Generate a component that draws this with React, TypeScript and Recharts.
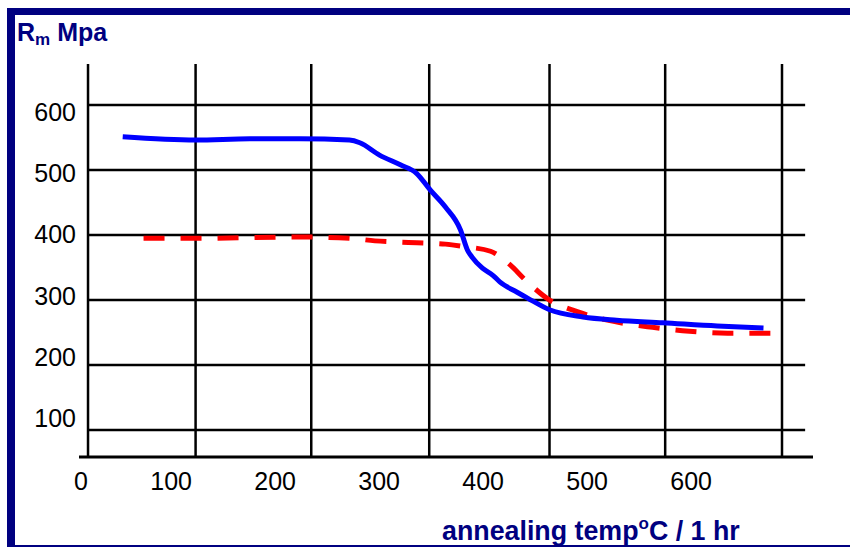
import React from "react";
import { LineChart, Line, XAxis, YAxis, ReferenceLine } from "recharts";

const NAVY = "#000080";
const FONT = "'Liberation Sans', Arial, sans-serif";

// tick labels
const tempTicks = [0, 100, 200, 300, 400, 500, 600];
const rmTicks = [100, 200, 300, 400, 500, 600];

// where the drawn grid lines fall (temperature / Rm)
const tempGrid = [0, 93, 193, 295, 399, 499, 600];
const rmGrid = [100, 200, 300, 400, 500, 600];

// solid blue curve
const blueTemps = [30, 93, 140, 183, 226, 235, 252, 270, 284, 296, 309, 322, 328, 332, 341, 350, 356, 371, 380, 399, 428, 457, 497, 544, 584];
const blueRm = [551, 546, 548, 548, 546, 542, 523, 508, 495, 469, 443, 408, 377, 366, 349, 338, 328, 312, 303, 285, 274, 269, 265, 260, 257];

// dashed red curve
const redTemps = [48, 97, 183, 226, 248, 270, 309, 326, 348, 365, 378, 399, 423, 449, 488, 520, 553, 594];
const redRm = [395, 395, 397, 395, 391, 389, 386, 382, 375, 354, 331, 300, 282, 269, 258, 252, 249, 249];

const blueData = blueTemps.map((t, i) => ({ temp: t, rm: blueRm[i] }));
const redData = redTemps.map((t, i) => ({ temp: t, rm: redRm[i] }));

const XTick = (props: any) => {
  const { x, y, payload } = props;
  return (
    <text x={x} y={y} dy={33} textAnchor="end" fontSize={25} fill="#000" fontFamily={FONT}>
      {payload.value}
    </text>
  );
};

const YTick = (props: any) => {
  const { x, y, payload } = props;
  return (
    <text x={x} y={y} dx={-3} dy={9} textAnchor="end" fontSize={25} fill="#000" fontFamily={FONT}>
      {payload.value}
    </text>
  );
};

export default function App() {
  return (
    <div style={{ position: "absolute", left: 0, top: 0, width: 850, height: 547, background: "#fff" }}>
      <div
        style={{
          position: "absolute",
          left: 7,
          top: 8,
          width: 843,
          height: 539,
          boxSizing: "border-box",
          borderTop: `7px solid ${NAVY}`,
          borderLeft: `8px solid ${NAVY}`,
          borderBottom: `2px solid ${NAVY}`,
        }}
      />
      <div style={{ position: "absolute", left: 0, top: 0 }}>
        <LineChart width={850} height={547} margin={{ top: 64, right: 37, bottom: 50, left: 19 }}>
          <XAxis
            xAxisId="grid"
            dataKey="temp"
            type="number"
            domain={[-7.8, 626.8]}
            allowDataOverflow
            hide
            height={0}
          />
          <YAxis yAxisId="grid" type="number" domain={[58.5, 663.1]} allowDataOverflow hide width={0} />
          <XAxis
            xAxisId="lbl"
            dataKey="temp"
            type="number"
            domain={[-8.65, 697.1]}
            ticks={tempTicks}
            allowDataOverflow
            axisLine={false}
            tickLine={false}
            tickSize={0}
            tickMargin={0}
            height={40}
            tick={<XTick />}
            interval={0}
          />
          <YAxis
            yAxisId="lbl"
            type="number"
            domain={[36.3, 678.4]}
            ticks={rmTicks}
            allowDataOverflow
            axisLine={false}
            tickLine={false}
            tickSize={0}
            tickMargin={0}
            width={60}
            tick={<YTick />}
            interval={0}
          />
          {tempGrid.map((t) => (
            <ReferenceLine key={"v" + t} xAxisId="grid" yAxisId="grid" x={t} stroke="#000" strokeWidth={2.5} />
          ))}
          {rmGrid.map((r) => (
            <ReferenceLine
              key={"h" + r}
              xAxisId="grid"
              yAxisId="grid"
              segment={[{ x: 0, y: r }, { x: 620, y: r }]}
              stroke="#000"
              strokeWidth={2.5}
            />
          ))}
          <ReferenceLine xAxisId="grid" yAxisId="grid" y={58.5} stroke="#000" strokeWidth={3} />
          <Line
            xAxisId="grid"
            yAxisId="grid"
            data={redData}
            dataKey="rm"
            type="monotone"
            stroke="#ff0000"
            strokeWidth={5}
            strokeDasharray="21 16"
            dot={false}
            isAnimationActive={false}
          />
          <Line
            xAxisId="grid"
            yAxisId="grid"
            data={blueData}
            dataKey="rm"
            type="monotone"
            stroke="#0000ff"
            strokeWidth={5}
            dot={false}
            isAnimationActive={false}
          />
          {/* keep label axes alive */}
          <Line xAxisId="lbl" yAxisId="lbl" data={redData} dataKey="rm" stroke="none" dot={false} activeDot={false} isAnimationActive={false} />
        </LineChart>
      </div>
      <svg width={850} height={547} style={{ position: "absolute", left: 0, top: 0, pointerEvents: "none" }}>
        <text x={17} y={41} fontSize={25} fontWeight="bold" fill={NAVY} fontFamily={FONT}>
          R<tspan fontSize={17} dy={4}>m</tspan>
          <tspan dy={-4}> Mpa</tspan>
        </text>
        <text x={442} y={540} fontSize={26.8} fontWeight="bold" fill={NAVY} fontFamily={FONT}>
          annealing temp<tspan fontSize={17} dy={-11}>o</tspan>
          <tspan dy={11}>C / 1 hr</tspan>
        </text>
      </svg>
    </div>
  );
}
